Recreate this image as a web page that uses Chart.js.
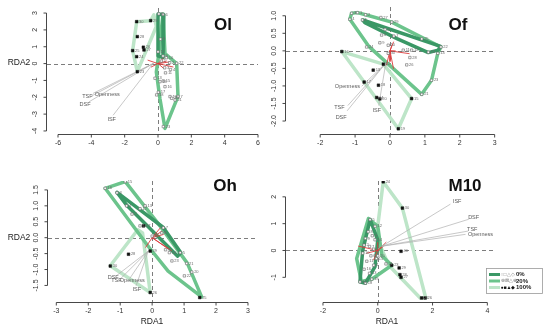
<!DOCTYPE html>
<html>
<head>
<meta charset="utf-8">
<script src="https://cdn.jsdelivr.net/npm/chart.js@4.4.1/dist/chart.umd.min.js"></script>
<style>
  html, body { margin: 0; padding: 0; background: #fff; }
  #wrap { position: relative; width: 550px; height: 332px; }
  #wrap canvas { position: absolute; left: 0; top: 0; }
</style>
</head>
<body>
<div id="wrap">
  <canvas id="pOl" width="550" height="332"></canvas>
  <canvas id="pOf" width="550" height="332"></canvas>
  <canvas id="pOh" width="550" height="332"></canvas>
  <canvas id="pM10" width="550" height="332"></canvas>
</div>
<script>
// group colours: 0%, 20%, 100%
const GREEN_0 = '#3a9866';
const GREEN_20 = '#6cc48c';
const GREEN_100 = '#bde5c8';

const envNames = ['TSF', 'DSF', 'ISF', 'Openness'];
const legendLabels = ['0%', '20%', '100%'];
const legendSymbols = ['\u25CB\u25A1\u25B3\u25C7', '\u2297\u22A0\u25B3\u2295', '\u25CF\u25A0\u25B2\u25C6'];

// ---- Ol ----
const olXTicks = [-6, -4, -2, 0, 2, 4, 6];
const olYTicks = [-4, -3, -2, -1, 0, 1, 2, 3];
const olDark = [[0.0, 2.95], [0.35, 2.9], [0.3, 0.35], [0.05, 0.45], [0.0, 2.95]];
const olMid = [[0.3, 2.95], [0.42, 0.6], [1.12, 0.0], [1.2, -1.95], [0.42, -3.85], [0.12, -2.1], [-0.1, -0.5], [0.05, 0.6], [0.3, 2.95]];
const olLight = [[-1.28, 2.49], [-0.44, 2.55], [-0.25, 2.9], [-0.1, 2.2], [-1.24, -0.48], [-1.52, 0.77], [-1.28, 2.49]];
const olFilled = [[-1.28, 2.49, '30'], [-0.44, 2.55, '29'], [-1.24, 1.6, '28'], [-0.88, 0.97, '26'], [-0.84, 0.81, '27'], [-1.52, 0.77, '25'], [-1.28, 0.41, '24'], [-1.24, -0.48, '23']];
const olOpen = [[0.05, 2.95, '5'], [0.3, 2.92, '6'], [0.15, 1.45, '8'], [0.0, 0.7, '12'], [0.3, 0.45, '9'], [0.5, 0.35, '10'], [0.2, 0.15, '1'], [0.7, 0.05, '2'], [1.12, 0.02, '22'], [0.4, -0.25, '3'], [0.75, -0.35, '4'], [0.45, -0.55, '11'], [-0.18, -0.87, '13'], [0.12, -1.07, '14'], [0.32, -1.03, '15'], [0.42, -1.37, '16'], [0.02, -1.7, '17'], [-0.08, -1.86, '18'], [0.72, -1.96, '19'], [0.82, -2.06, '20'], [1.02, -2.16, '21'], [1.2, -1.95, '7'], [0.32, -3.74, '23']];
const olEnvOrigin = [-0.3, 0.0];
const olEnvTips = [[-3.98, -1.92], [-4.12, -2.26], [-2.68, -3.05], [-3.88, -1.76]];
const olEnvLabels = [[-4.24, -1.96], [-4.38, -2.4], [-2.78, -3.29], [-3.05, -1.82]];
const olRed = [[-0.6, 0.2], [-0.4, -0.2], [0.3, 0.3], [0.5, 0.15], [0.9, -0.2], [0.3, -0.25], [0.7, 0.1]];

// ---- Of ----
const ofXTicks = [-2, -1, 0, 1, 2, 3];
const ofYTicks = [-2, -1.5, -1, -0.5, 0, 0.5, 1];
const ofDark = [[-0.78, 0.88], [1.45, 0.13], [1.38, 0.02], [1.1, -0.05], [0.2, 0.35], [-0.72, 0.8], [-0.78, 0.88]];
const ofMid = [[-1.15, 0.9], [-1.1, 1.07], [-0.93, 1.09], [-0.7, 1.03], [0.05, 0.82], [1.46, 0.11], [1.37, -0.07], [1.19, -0.84], [0.91, -1.24], [-0.6, 0.12], [-1.15, 0.9]];
const ofLight = [[-1.38, -0.02], [-0.19, -0.38], [0.62, -1.36], [0.24, -2.22], [-1.38, -0.02]];
const ofFilled = [[-1.38, -0.02, '16'], [-0.19, -0.38, '12'], [-0.48, -0.55, '13'], [-0.74, -0.89, '17'], [-0.33, -0.98, '18'], [-0.38, -1.33, '14'], [-0.29, -1.37, '20'], [0.62, -1.36, '15'], [0.24, -2.22, '19']];
const ofOpen = [[-1.1, 1.07, '3'], [-0.93, 1.09, '1'], [-0.7, 1.03, '2'], [-1.15, 0.9, '4'], [-0.79, 0.88, '5'], [-0.26, 0.95, '27'], [0.05, 0.82, '29'], [-0.14, 0.61, '8'], [0.11, 0.42, '7'], [-0.24, 0.45, '6'], [-0.67, 0.11, '24'], [-0.29, 0.23, '9'], [-0.05, 0.16, '10'], [0.38, 0.02, '11'], [0.62, 0.02, '12'], [0.91, 0.34, '25'], [0.57, -0.19, '28'], [0.48, -0.4, '26'], [1.19, -0.84, '23'], [0.91, -1.24, '21'], [1.46, 0.11, '22'], [1.37, -0.07, '14'], [1.1, -0.04, '13'], [-0.05, -0.07, '30']];
const ofEnvOrigin = [-0.12, -0.35];
const ofEnvTips = [[-1.2, -1.55], [-1.22, -1.7], [-0.32, -1.55], [-0.8, -1.0]];
const ofEnvLabels = [[-1.45, -1.62], [-1.4, -1.9], [-0.38, -1.7], [-1.22, -1.02]];
const ofRed = [[0.1, 0.25], [0.05, 0.15], [-0.05, -0.1], [0.0, -0.3], [0.1, -0.5], [-0.1, -0.4], [0.15, 0.0], [0.55, -0.08]];

// ---- Oh ----
const ohXTicks = [-3, -2, -1, 0, 1, 2, 3];
const ohYTicks = [-1.5, -1, -0.5, 0, 0.5, 1, 1.5];
const ohDark = [[-1.1, 1.42], [0.35, 0.32], [0.9, -0.47], [0.8, -0.58], [-0.78, 1.0], [-1.1, 1.42]];
const ohMid = [[-1.47, 1.55], [-0.84, 1.76], [0.3, 0.3], [1.1, -0.8], [1.55, -1.86], [0.5, -1.05], [-0.1, -0.3], [-1.47, 1.55]];
const ohLight = [[-1.31, -0.88], [-0.45, 0.25], [-0.3, 0.15], [-0.06, -1.72], [-1.31, -0.88]];
const ohFilled = [[-0.74, -0.52, '28'], [-1.31, -0.89, '30'], [-0.06, -1.72, '26'], [-0.27, 0.37, '27'], [-0.06, -0.42, '29'], [1.49, -1.88, '25']];
const ohOpen = [[-1.47, 1.55, '16'], [-0.84, 1.76, '15'], [-1.1, 1.41, '3'], [-0.8, 1.0, '4'], [-0.63, 0.74, '2'], [-0.38, 0.91, '12'], [-0.22, 1.0, '13'], [-0.38, 0.37, '11'], [0.35, 0.31, '7'], [0.3, 0.15, '8'], [0.42, -0.38, '9'], [0.54, -0.47, '10'], [0.88, -0.47, '5'], [1.08, -0.81, '21'], [1.24, -1.08, '20'], [1.01, -1.2, '22'], [0.62, -0.73, '23'], [0.0, 0.05, '1']];
const ohEnvOrigin = [-0.12, -0.42];
const ohEnvTips = [[-1.0, -1.3], [-1.1, -1.18], [-0.5, -1.5], [-0.7, -1.28]];
const ohEnvLabels = [[-1.12, -1.36], [-1.22, -1.24], [-0.48, -1.62], [-0.62, -1.36]];
const ohRed = [[0.3, 0.2], [0.35, 0.1], [-0.2, -0.3], [0.5, -0.35], [0.6, -0.4], [0.0, 0.05], [0.25, 0.3]];

// ---- M10 ----
const m10XTicks = [-2, 0, 2, 4];
const m10YTicks = [-1, 0, 1, 2];
const m10Dark = [[-0.28, 1.15], [0.0, 0.4], [-0.1, -0.6], [-0.45, -1.22], [-0.65, -1.17], [-0.55, 0.0], [-0.28, 1.15]];
const m10Mid = [[-0.34, 1.19], [0.0, 0.9], [0.15, -0.2], [0.51, -0.55], [-0.22, -1.07], [-0.6, -1.15], [-0.77, -0.3], [-0.34, 1.19]];
const m10Light = [[0.2, 2.56], [0.9, 1.58], [1.75, -1.76], [1.55, -1.77], [0.4, -0.55], [-0.05, 0.5], [0.2, 2.56]];
const m10Filled = [[0.2, 2.56, '24'], [0.9, 1.58, '30'], [0.85, -0.03, '40'], [0.78, -0.65, '29'], [0.81, -0.9, '28'], [0.85, -1.0, '27'], [1.6, -1.77, '25'], [1.73, -1.77, '26'], [0.51, -0.55, '23']];
const m10Open = [[-0.28, 1.15, '5'], [-0.1, 0.9, '12'], [-0.35, 0.7, '8'], [-0.2, 0.55, '3'], [-0.45, 0.45, '9'], [-0.1, 0.4, '14'], [-0.5, 0.2, '2'], [-0.3, 0.15, '7'], [-0.15, 0.05, '1'], [-0.55, -0.1, '10'], [-0.25, -0.2, '6'], [-0.05, -0.3, '15'], [-0.4, -0.4, '11'], [-0.15, -0.55, '4'], [-0.5, -0.7, '16'], [-0.3, -0.85, '13'], [-0.65, -1.17, '17'], [-0.45, -1.22, '18'], [-0.22, -1.07, '19'], [0.0, -0.2, '20'], [0.3, -0.5, '21']];
const m10EnvOrigin = [0.15, 0.16];
const m10EnvTips = [[3.28, 0.72], [3.31, 1.16], [2.64, 1.72], [3.19, 0.6]];
const m10EnvLabels = [[3.45, 0.8], [3.5, 1.24], [2.9, 1.84], [3.75, 0.58]];
const m10Red = [[-0.7, 0.16], [0.3, 0.3], [-0.15, -0.35], [0.2, 0.15], [-0.4, -0.1], [0.0, 0.3]];

// panel layout (page pixels of the plot region) and axis ranges
const PANELS = {
  pOl: { title: 'Ol', titlePos: [223, 25], area: [47, 8, 258, 134], x: [-6.66, 6.0], y: [-4.18, 3.3],
    xTicks: olXTicks, yTicks: olYTicks, yDigits: 0, rda1: null, rda2: [19, 63],
    dark: olDark, mid: olMid, light: olLight, filled: olFilled, open: olOpen,
    envOrigin: olEnvOrigin, envTips: olEnvTips, envLabels: olEnvLabels, red: olRed },
  pOf: { title: 'Of', titlePos: [458, 25], area: [286, 7, 495, 134], x: [-2.98, 3.01], y: [-2.37, 1.25],
    xTicks: ofXTicks, yTicks: ofYTicks, yDigits: 1, rda1: null, rda2: null,
    dark: ofDark, mid: ofMid, light: ofLight, filled: ofFilled, open: ofOpen,
    envOrigin: ofEnvOrigin, envTips: ofEnvTips, envLabels: ofEnvLabels, red: ofRed },
  pOh: { title: 'Oh', titlePos: [225, 186], area: [48, 181, 255, 302], x: [-3.26, 3.22], y: [-2.02, 1.78],
    xTicks: ohXTicks, yTicks: ohYTicks, yDigits: 1, rda1: [152, 322], rda2: [19, 238],
    dark: ohDark, mid: ohMid, light: ohLight, filled: ohFilled, open: ohOpen,
    envOrigin: ohEnvOrigin, envTips: ohEnvTips, envLabels: ohEnvLabels, red: ohRed },
  pM10: { title: 'M10', titlePos: [465, 186], area: [286, 181, 495, 302], x: [-3.35, 4.28], y: [-1.92, 2.59],
    xTicks: m10XTicks, yTicks: m10YTicks, yDigits: 0, rda1: [387, 322], rda2: null, legend: true,
    dark: m10Dark, mid: m10Mid, light: m10Light, filled: m10Filled, open: m10Open,
    envOrigin: m10EnvOrigin, envTips: m10EnvTips, envLabels: m10EnvLabels, red: m10Red }
};

const FONT = '"Liberation Sans", Arial, sans-serif';

function pts(arr) {
  return arr.map(p => ({ x: p[0], y: p[1] }));
}

function segments(origin, tips, color, width) {
  return tips.map(t => ({
    data: [{ x: origin[0], y: origin[1] }, { x: t[0], y: t[1] }],
    showLine: true, borderColor: color, borderWidth: width, pointRadius: 0, order: 1
  }));
}

function hull(data, color, order) {
  return { data: pts(data), showLine: true, borderColor: color, borderWidth: 3.5, pointRadius: 0, order: order };
}

// R-like axes, dashed zero lines, labels and legend
const rPlot = {
  id: 'rPlot',
  beforeDatasetsDraw(chart) {
    const { ctx, chartArea: a } = chart;
    const x0 = Math.round(chart.scales.x.getPixelForValue(0)) + 0.5;
    const y0 = Math.round(chart.scales.y.getPixelForValue(0)) + 0.5;
    ctx.save();
    ctx.strokeStyle = '#6e6e6e';
    ctx.lineWidth = 0.9;
    ctx.setLineDash([4, 3]);
    ctx.beginPath();
    ctx.moveTo(a.left, y0); ctx.lineTo(a.right, y0);
    ctx.moveTo(x0, a.top); ctx.lineTo(x0, a.bottom);
    ctx.stroke();
    ctx.restore();
  },
  afterDatasetsDraw(chart) {
    const p = PANELS[chart.canvas.id];
    const { ctx, chartArea: a } = chart;
    const sx = chart.scales.x, sy = chart.scales.y;
    ctx.save();

    // point labels
    ctx.font = '4px ' + FONT;
    ctx.fillStyle = '#6a6a6a';
    ctx.textAlign = 'left';
    ctx.textBaseline = 'middle';
    chart.data.datasets.forEach((ds, i) => {
      if (!ds.pointLabels) return;
      chart.getDatasetMeta(i).data.forEach((el, j) => {
        ctx.fillText(ds.pointLabels[j], el.x + 2.4, el.y);
      });
    });

    // environmental variable labels
    ctx.font = '5.5px ' + FONT;
    ctx.fillStyle = '#5a5a5a';
    ctx.textAlign = 'center';
    p.envLabels.forEach((l, i) => {
      ctx.fillText(envNames[i], sx.getPixelForValue(l[0]), sy.getPixelForValue(l[1]));
    });

    // x axis
    ctx.strokeStyle = '#333';
    ctx.fillStyle = '#333';
    ctx.lineWidth = 0.9;
    const xb = Math.round(a.bottom) + 0.5;
    const xs = p.xTicks.map(v => sx.getPixelForValue(v));
    ctx.beginPath();
    ctx.moveTo(xs[0], xb); ctx.lineTo(xs[xs.length - 1], xb);
    xs.forEach(px => { ctx.moveTo(px, xb); ctx.lineTo(px, xb + 3); });
    ctx.stroke();
    ctx.font = '7px ' + FONT;
    ctx.textAlign = 'center';
    ctx.textBaseline = 'middle';
    p.xTicks.forEach((v, i) => ctx.fillText(String(v), xs[i], xb + 9));

    // y axis
    const yl = Math.round(a.left) - 0.5;
    const ys = p.yTicks.map(v => sy.getPixelForValue(v));
    ctx.beginPath();
    ctx.moveTo(yl, ys[0]); ctx.lineTo(yl, ys[ys.length - 1]);
    ys.forEach(py => { ctx.moveTo(yl, py); ctx.lineTo(yl - 3, py); });
    ctx.stroke();
    p.yTicks.forEach((v, i) => {
      ctx.save();
      ctx.translate(yl - 11, ys[i]);
      ctx.rotate(-Math.PI / 2);
      ctx.fillText(v.toFixed(p.yDigits), 0, 0);
      ctx.restore();
    });

    // axis titles
    ctx.font = '8.5px ' + FONT;
    ctx.fillStyle = '#222';
    if (p.rda2) ctx.fillText('RDA2', p.rda2[0], p.rda2[1]);
    if (p.rda1) ctx.fillText('RDA1', p.rda1[0], p.rda1[1]);

    // panel title
    ctx.font = 'bold 17px ' + FONT;
    ctx.fillStyle = '#111';
    ctx.fillText(p.title, p.titlePos[0], p.titlePos[1]);

    // legend
    if (p.legend) {
      const colors = [GREEN_0, GREEN_20, GREEN_100];
      const symColors = ['#888', '#777', '#111'];
      ctx.strokeStyle = '#999';
      ctx.lineWidth = 0.8;
      ctx.strokeRect(486.5, 268.5, 56, 25);
      legendLabels.forEach((lab, i) => {
        const ry = 274.5 + i * 6.5;
        ctx.strokeStyle = colors[i];
        ctx.lineWidth = 3;
        ctx.beginPath(); ctx.moveTo(489, ry); ctx.lineTo(500, ry); ctx.stroke();
        ctx.font = '5px ' + FONT;
        ctx.fillStyle = symColors[i];
        ctx.textAlign = 'left';
        ctx.fillText(legendSymbols[i], 500.5, ry);
        ctx.font = 'bold 6px ' + FONT;
        ctx.fillStyle = '#222';
        ctx.fillText(lab, 516, ry);
      });
    }
    ctx.restore();
  }
};

function makePanel(id) {
  const p = PANELS[id];
  const datasets = [
    hull(p.light, GREEN_100, 5),
    hull(p.mid, GREEN_20, 4),
    hull(p.dark, GREEN_0, 3),
    ...segments(p.envOrigin, p.envTips, '#b0b0b0', 0.7),
    ...segments([0, 0], p.red, '#dd3b3b', 0.9),
    {
      data: pts(p.open), pointStyle: 'rect', pointRadius: 1.7, backgroundColor: '#fff',
      borderColor: '#666', borderWidth: 0.6, pointLabels: p.open.map(d => d[2]), order: 0
    },
    {
      data: pts(p.filled), pointStyle: 'rect', pointRadius: 1.9, backgroundColor: '#111',
      borderColor: '#111', borderWidth: 0.5, pointLabels: p.filled.map(d => d[2]), order: 0
    }
  ];
  const [l, t, r, b] = p.area;
  return new Chart(document.getElementById(id), {
    type: 'scatter',
    data: { datasets: datasets },
    options: {
      responsive: false,
      animation: false,
      layout: { padding: { left: l, top: t, right: 550 - r, bottom: 332 - b } },
      scales: {
        x: { type: 'linear', min: p.x[0], max: p.x[1], display: false },
        y: { type: 'linear', min: p.y[0], max: p.y[1], display: false }
      },
      elements: { line: { tension: 0, borderJoinStyle: 'round', borderCapStyle: 'round' } },
      plugins: { legend: { display: false }, tooltip: { enabled: false } }
    },
    plugins: [rPlot]
  });
}

Object.keys(PANELS).forEach(makePanel);
</script>
</body>
</html>
